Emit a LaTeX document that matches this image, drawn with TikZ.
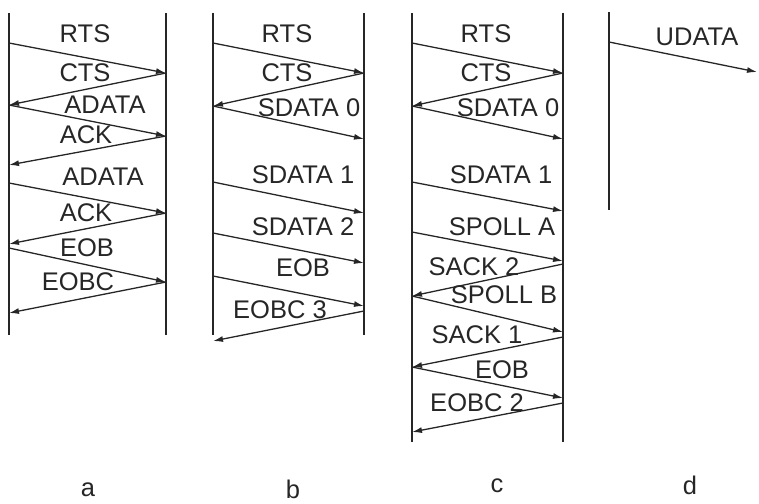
\documentclass[tikz,border=0pt]{standalone}
\usepackage{fontspec}
\setmainfont{Liberation Sans}
\usepackage{tikz}
\usetikzlibrary{arrows.meta}
\definecolor{ink}{HTML}{262626}
\tikzset{
  life/.style={draw=ink,line width=1.4pt},
  msg/.style={-{Latex[length=10pt,width=6pt]},draw=ink,line width=1.3pt},
  lbl/.style={inner sep=0pt,text=ink,font=\fontsize{25.5}{30}\selectfont},
  tag/.style={inner sep=0pt,anchor=base,text=ink,font=\fontsize{25.5}{30}\selectfont}
}

\begin{document}
\begin{tikzpicture}[x=1pt,y=-1pt]
\useasboundingbox (0,0) rectangle (759,503);
% column a
\coordinate (aLt) at (9,13);   \coordinate (aLb) at (9,335);
\coordinate (aRt) at (166,13); \coordinate (aRb) at (166,335);
\draw[life] (aLt) -- (aLb);
\draw[life] (aRt) -- (aRb);
\coordinate (a0) at (9,43);   \coordinate (a1) at (166,73);
\coordinate (a2) at (9,105);  \coordinate (a3) at (166,136);
\coordinate (a4) at (9,165);  \coordinate (a5) at (9,183);
\coordinate (a6) at (166,213);\coordinate (a7) at (9,244);
\coordinate (a8) at (9,248);  \coordinate (a9) at (166,282);
\coordinate (a10) at (9,313);
\draw[msg] (a0) -- (a1);
\draw[msg] (a1) -- (a2);
\draw[msg] (a2) -- (a3);
\draw[msg] (a3) -- (a4);
\draw[msg] (a5) -- (a6);
\draw[msg] (a6) -- (a7);
\draw[msg] (a8) -- (a9);
\draw[msg] (a9) -- (a10);
\node[lbl] (aRTS) at (85,34) {RTS};
\node[lbl] (aCTS) at (85,73) {CTS};
\node[lbl] (aAD1) at (105,105) {ADATA};
\node[lbl] (aACK1) at (86,135) {ACK};
\node[lbl] (aAD2) at (103,177) {ADATA};
\node[lbl] (aACK2) at (86,213) {ACK};
\node[lbl] (aEOB) at (87,248) {EOB};
\node[lbl] (aEOBC) at (78,282) {EOBC};
% column b
\coordinate (bLt) at (213,13); \coordinate (bLb) at (213,335);
\coordinate (bRt) at (364,13); \coordinate (bRb) at (364,335);
\draw[life] (bLt) -- (bLb);
\draw[life] (bRt) -- (bRb);
\coordinate (b0) at (213,43);  \coordinate (b1) at (364,73);
\coordinate (b2) at (213,106); \coordinate (b3) at (364,139);
\coordinate (b4) at (213,182); \coordinate (b5) at (364,213);
\coordinate (b6) at (213,233); \coordinate (b7) at (364,263);
\coordinate (b8) at (213,276); \coordinate (b9) at (364,306);
\coordinate (b10) at (364,311);\coordinate (b11) at (213,341);
\draw[msg] (b0) -- (b1);
\draw[msg] (b1) -- (b2);
\draw[msg] (b2) -- (b3);
\draw[msg] (b4) -- (b5);
\draw[msg] (b6) -- (b7);
\draw[msg] (b8) -- (b9);
\draw[msg] (b10) -- (b11);
\node[lbl] (bRTS) at (287,34) {RTS};
\node[lbl] (bCTS) at (287,73) {CTS};
\node[lbl] (bSD0) at (309,108) {SDATA 0};
\node[lbl] (bSD1) at (303,175) {SDATA 1};
\node[lbl] (bSD2) at (303,227) {SDATA 2};
\node[lbl] (bEOB) at (303,268) {EOB};
\node[lbl] (bEOBC) at (280,310) {EOBC 3};
% column c
\coordinate (cLt) at (412,13); \coordinate (cLb) at (412,442);
\coordinate (cRt) at (563,13); \coordinate (cRb) at (563,442);
\draw[life] (cLt) -- (cLb);
\draw[life] (cRt) -- (cRb);
\coordinate (c0) at (412,43);  \coordinate (c1) at (563,73);
\coordinate (c2) at (412,106); \coordinate (c3) at (563,139);
\coordinate (c4) at (412,182); \coordinate (c5) at (563,211);
\coordinate (c6) at (412,232); \coordinate (c7) at (563,261);
\coordinate (c8) at (563,264); \coordinate (c9) at (412,296);
\coordinate (c10) at (563,332);\coordinate (c11) at (563,337);
\coordinate (c12) at (412,367);\coordinate (c13) at (563,398);
\coordinate (c14) at (563,403);\coordinate (c15) at (412,432);
\draw[msg] (c0) -- (c1);
\draw[msg] (c1) -- (c2);
\draw[msg] (c2) -- (c3);
\draw[msg] (c4) -- (c5);
\draw[msg] (c6) -- (c7);
\draw[msg] (c8) -- (c9);
\draw[msg] (c9) -- (c10);
\draw[msg] (c11) -- (c12);
\draw[msg] (c12) -- (c13);
\draw[msg] (c14) -- (c15);
\node[lbl] (cRTS) at (486,34) {RTS};
\node[lbl] (cCTS) at (486,73) {CTS};
\node[lbl] (cSD0) at (508,108) {SDATA 0};
\node[lbl] (cSD1) at (501,175) {SDATA 1};
\node[lbl] (cSPA) at (502,227) {SPOLL A};
\node[lbl] (cSK2) at (474,267) {SACK 2};
\node[lbl] (cSPB) at (504,295) {SPOLL B};
\node[lbl] (cSK1) at (477,335) {SACK 1};
\node[lbl] (cEOB) at (502,370) {EOB};
\node[lbl] (cEOBC) at (477,403) {EOBC 2};
% column d
\coordinate (dLt) at (609,12); \coordinate (dLb) at (609,210);
\draw[life] (dLt) -- (dLb);
\coordinate (d0) at (609,42);  \coordinate (d1) at (757,72);
\draw[msg] (d0) -- (d1);
\node[lbl] (dUD) at (697,37) {UDATA};
% captions
\node[tag] (capA) at (88,496) {a};
\node[tag] (capB) at (293,498) {b};
\node[tag] (capC) at (497,492) {c};
\node[tag] (capD) at (690,494) {d};
\end{tikzpicture}
\end{document}
